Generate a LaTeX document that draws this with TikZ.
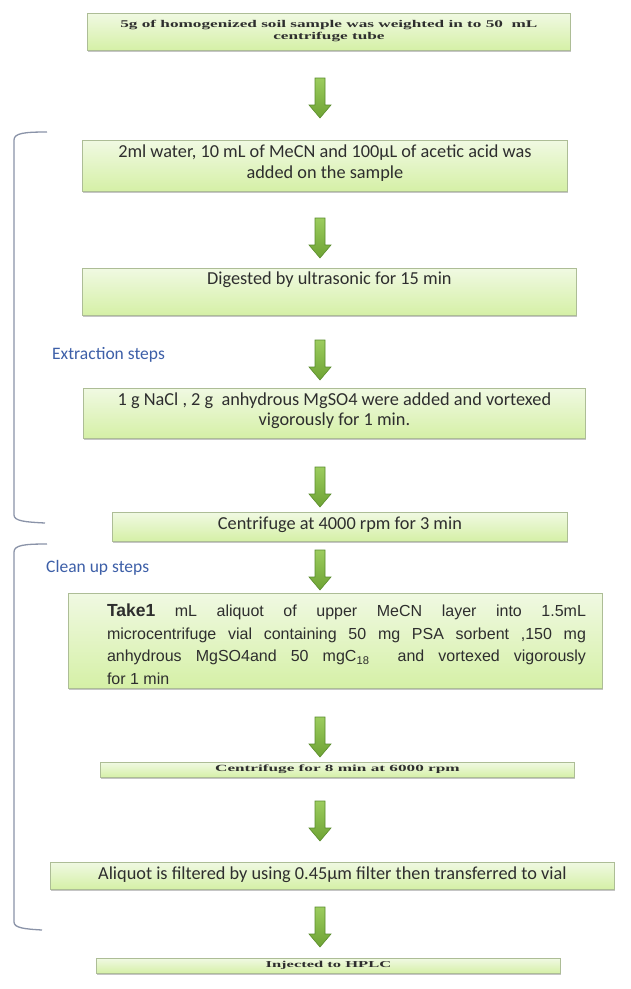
\documentclass[tikz,border=0pt]{standalone}
\usepackage{fontspec}
\setmainfont{Carlito}
\newfontfamily\serifx{Liberation Serif}
\newfontfamily\arialx{Liberation Sans}
\usetikzlibrary{shadows}
\definecolor{boxtop}{HTML}{F0F9E2}
\definecolor{boxbot}{HTML}{D5F0A6}
\definecolor{boxline}{HTML}{ADBD96}
\definecolor{arrtop}{HTML}{9CCC5E}
\definecolor{arrbot}{HTML}{6EA334}
\definecolor{arrline}{HTML}{5A8C2C}
\definecolor{brk}{HTML}{8A93A8}
\definecolor{lblue}{HTML}{3D5FA8}
\definecolor{txt}{HTML}{2E2E2E}
\begin{document}
\begin{tikzpicture}[x=1pt,y=-1pt,
  box/.style={draw=boxline, line width=0.8pt, top color=boxtop, bottom color=boxbot,
    drop shadow={shadow xshift=1pt, shadow yshift=-2pt, opacity=0.45, fill=gray},
    inner sep=0pt, anchor=north west},
  ctext/.style={font=\fontsize{18.3}{20.5}\selectfont, text=txt, align=center, inner sep=0pt},
  stext/.style={font=\serifx\bfseries\fontsize{17.2}{12}\selectfont, text=txt, align=center, inner sep=0pt},
  lbl/.style={font=\fontsize{17.5}{20}\selectfont, text=lblue, anchor=west, inner sep=0pt},
  brack/.style={draw=brk, line width=1.3pt},
  arrowshape/.style={draw=arrline, line width=0.6pt, top color=arrtop, bottom color=arrbot},
  garrow/.pic={\path[arrowshape] (-5,0) -- (5,0) -- (5,27) -- (11,27) -- (0,40) -- (-11,27) -- (-5,27) -- cycle;}
]
\useasboundingbox[fill=white] (0,0) rectangle (630,989);

% boxes
\node[box, minimum width=483pt, minimum height=37pt] (b1) at (87,13) {};
\node[box, minimum width=485pt, minimum height=51pt] (b2) at (82,140) {};
\node[box, minimum width=494pt, minimum height=47pt] (b3) at (82,268) {};
\node[box, minimum width=502pt, minimum height=50pt] (b4) at (83,388) {};
\node[box, minimum width=455pt, minimum height=29pt] (b5) at (112,512) {};
\node[box, minimum width=534pt, minimum height=95pt] (b6) at (68,593) {};
\node[box, minimum width=474pt, minimum height=15pt] (b7) at (100,762) {};
\node[box, minimum width=564pt, minimum height=27pt] (b8) at (50,862) {};
\node[box, minimum width=464pt, minimum height=15pt] (b9) at (96,958) {};

% texts
\node[stext] (t1) at (b1.center |- 0,31) {\scalebox{1}[0.6]{5g of homogenized soil sample was weighted in to 50\ \ mL}\\\scalebox{1}[0.6]{centrifuge tube}};
\node[ctext] (t2) at (b2.center |- 0,163) {2ml water, 10 mL of MeCN and 100μL of acetic acid was\\added on the sample};
\node[ctext] (t3) at (b3.center |- 0,280) {Digested by ultrasonic for 15 min};
\node[ctext, font=\fontsize{18.3}{20}\selectfont] (t4) at (b4.center |- 0,411) {1 g NaCl , 2 g\ \ anhydrous MgSO4 were added and vortexed\\vigorously for 1 min.};
\node[ctext] (t5) at (b5.center |- 0,525) {Centrifuge at 4000 rpm for 3 min};
\node[ctext, font=\arialx\fontsize{16}{22.5}\selectfont, align=justify, text width=479pt] (t6) at (346.5,644)
  {{\bfseries\fontsize{17.5}{22.5}\selectfont Take1} mL aliquot of upper MeCN layer into 1.5mL\linebreak
   microcentrifuge vial containing 50 mg PSA sorbent ,150 mg\linebreak
   anhydrous MgSO4and 50 mgC\textsubscript{18}\ \ and vortexed vigorously\linebreak
   for 1 min};
\node[stext] (t7) at (b7.center |- 0,769) {\scalebox{1}[0.55]{Centrifuge for 8 min at 6000 rpm}};
\node[ctext] (t8) at (b8.center |- 0,875) {Aliquot is filtered by using 0.45μm filter then transferred to vial};
\node[stext, font=\serifx\bfseries\fontsize{16.5}{12}\selectfont] (t9) at (b9.center |- 0,965) {\scalebox{1}[0.55]{Injected to HPLC}};

% side labels
\node[lbl] (ext) at (52,355) {Extraction steps};
\node[lbl] (cln) at (46,568) {Clean up steps};

% brackets
\path[brack] (47,132) .. controls (25,132) and (14,133) .. (14,140) -- (14,515) .. controls (14,521) and (25,522) .. (45,523);
\path[brack] (47,544) .. controls (25,544) and (14,545) .. (14,552) -- (14,922) .. controls (14,928) and (25,929) .. (42,930);

% block arrows
\pic at (320,78) {garrow};
\pic at (320,218) {garrow};
\pic at (320,340) {garrow};
\pic at (320,467) {garrow};
\pic at (320,550) {garrow};
\pic at (320,717) {garrow};
\pic at (320,801) {garrow};
\pic at (320,907) {garrow};
\end{tikzpicture}
\end{document}
